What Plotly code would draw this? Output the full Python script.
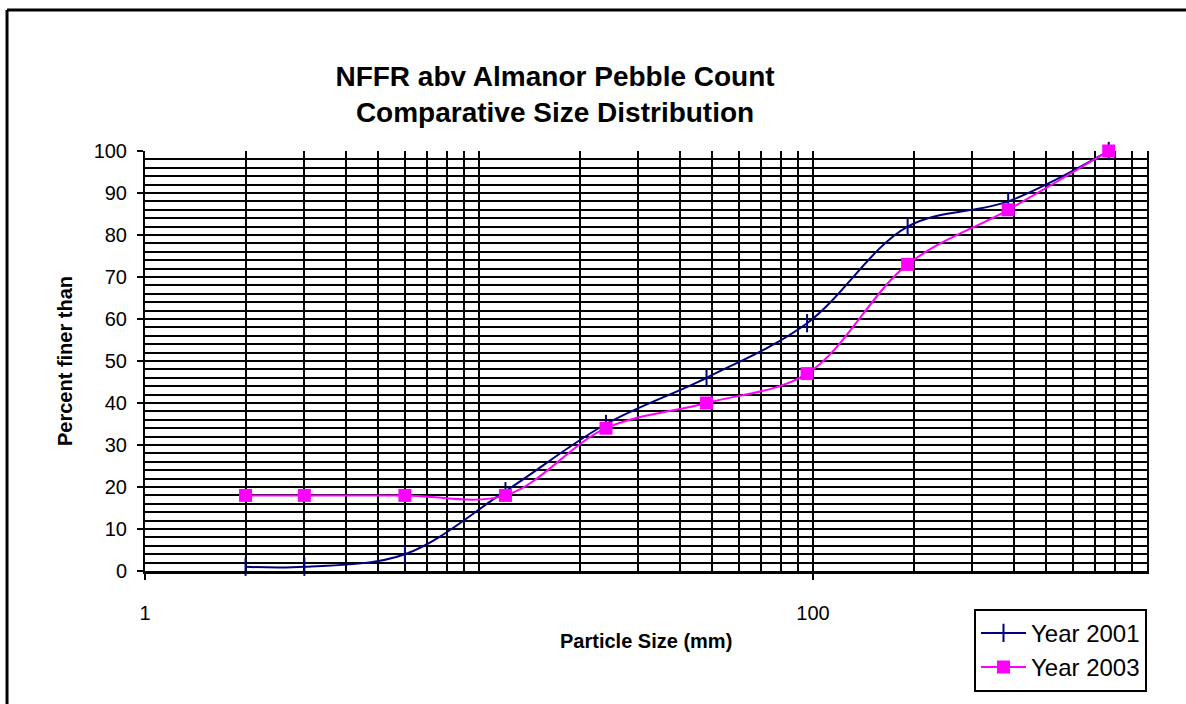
import plotly.graph_objects as go

# ---- data ----
particle_size_mm = [2, 3, 6, 12, 24, 48, 96, 192, 384, 768]
year_2001 = [1, 1, 4, 19, 35, 46, 59, 82, 88, 100]
year_2003 = [18, 18, 18, 18, 34, 40, 47, 73, 86, 100]

x_tick_vals = [1, 100]
x_tick_text = ["1", "100"]
y_tick_vals = [0, 10, 20, 30, 40, 50, 60, 70, 80, 90, 100]

title_lines = ["NFFR abv Almanor Pebble Count", "Comparative Size Distribution"]
x_title = "Particle Size (mm)"
y_title = "Percent finer than"
series_names = ["Year 2001", "Year 2003"]

FONT = "Liberation Sans, Arial, sans-serif"

# minor log gridlines: 1..9 in each decade
minor_x = [m * 10 ** d for d in range(0, 3) for m in range(1, 10)] + [1000]

fig = go.Figure()
fig.add_trace(go.Scatter(
    x=particle_size_mm, y=year_2001, name=series_names[0],
    mode="lines+markers",
    line=dict(color="#000080", width=2, shape="spline", smoothing=1),
    marker=dict(symbol="line-ns-open", size=13, color="#000080",
                line=dict(color="#000080", width=2)),
    cliponaxis=False,
))
fig.add_trace(go.Scatter(
    x=particle_size_mm, y=year_2003, name=series_names[1],
    mode="lines+markers",
    line=dict(color="#FF00FF", width=2, shape="spline", smoothing=1),
    marker=dict(symbol="square", size=13, color="#FF00FF", line=dict(width=0)),
    cliponaxis=False,
))

fig.update_layout(
    width=1186, height=704,
    margin=dict(l=145, r=39, t=151, b=131),
    paper_bgcolor="white", plot_bgcolor="white",
    font=dict(family=FONT, color="black"),
    showlegend=True,
    legend=dict(
        x=1.0, xanchor="right", y=-0.09, yanchor="top",
        bgcolor="white", bordercolor="black", borderwidth=2,
        font=dict(size=24, family=FONT, color="black"),
        tracegroupgap=4, itemwidth=45,
    ),
    title=dict(
        text="<b>" + title_lines[0] + "</b><br><b>" + title_lines[1] + "</b>",
        font=dict(size=28, family=FONT, color="black"),
        x=0.468, xref="container", xanchor="center",
        y=1 - 86 / 704, yref="container", yanchor="middle",
    ),
)

fig.update_xaxes(
    type="log", range=[0, 3],
    tickmode="array", tickvals=x_tick_vals, ticktext=x_tick_text,
    ticks="outside", ticklen=6, tickwidth=2, tickcolor="black",
    tickfont=dict(size=20, family=FONT, color="black"),
    ticklabelstandoff=16,
    showline=True, linecolor="black", linewidth=3,
    showgrid=True, gridcolor="black", gridwidth=2,
    minor=dict(tickmode="array", tickvals=minor_x, showgrid=True,
               gridcolor="black", gridwidth=2, ticks=""),
    zeroline=False,
)
fig.update_yaxes(
    range=[0, 100],
    tickmode="array", tickvals=y_tick_vals,
    ticks="outside", ticklen=6, tickwidth=2, tickcolor="black",
    tickfont=dict(size=20, family=FONT, color="black"),
    ticklabelstandoff=6,
    showline=True, linecolor="black", linewidth=2, mirror=True,
    showgrid=True, gridcolor="black", gridwidth=2,
    minor=dict(dtick=2, showgrid=True, gridcolor="black", gridwidth=2, ticks=""),
    zeroline=False,
)

# axis titles
fig.add_annotation(text="<b>" + x_title + "</b>", xref="paper", yref="paper",
                   x=0.5, y=-0.1666, showarrow=False,
                   font=dict(size=20, family=FONT, color="black"),
                   xanchor="center", yanchor="middle")
fig.add_annotation(text="<b>" + y_title + "</b>", xref="paper", yref="paper",
                   x=-0.0798, y=0.5, showarrow=False, textangle=-90,
                   font=dict(size=20, family=FONT, color="black"),
                   xanchor="center", yanchor="middle")

# outer chart frame (top and left edges visible in the crop)
fig.add_shape(type="line", xref="paper", yref="paper",
              x0=-0.1377, x1=-0.1377, y0=-0.5, y1=1.3358,
              line=dict(color="black", width=3))
fig.add_shape(type="line", xref="paper", yref="paper",
              x0=-0.1377, x1=1.2, y0=1.3358, y1=1.3358,
              line=dict(color="black", width=3))

fig.write_html(
    "out.html",
    config={"displayModeBar": False},
    post_script="document.body.style.margin='0';document.body.style.overflow='hidden';",
)
